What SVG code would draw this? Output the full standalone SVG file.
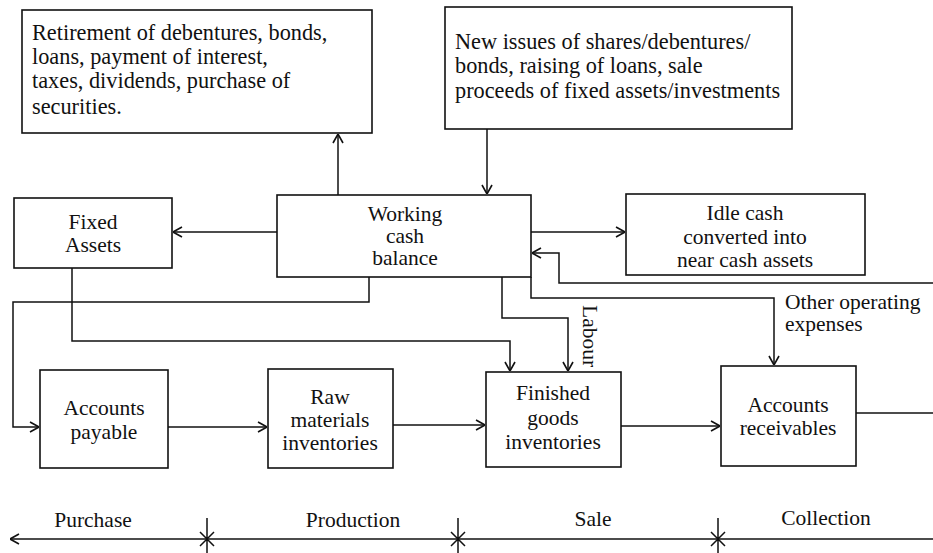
<svg xmlns="http://www.w3.org/2000/svg" width="933" height="553" viewBox="0 0 933 553">
<style>
  .box { fill: #fff; stroke: #111; stroke-width: 1.6; }
  .t { font-family: "Liberation Serif", "Times New Roman", serif; font-size: 21.5px; fill: #111; }
  .big { font-size: 22.3px; }
  .c { text-anchor: middle; }
  .ln { fill: none; stroke: #111; stroke-width: 1.5; }
  .arr { marker-end: url(#ah); }
</style>
<defs>
  <marker id="ah" viewBox="0 0 10 12" refX="10" refY="6" markerWidth="10" markerHeight="12" markerUnits="userSpaceOnUse" orient="auto">
    <path d="M1,1 L10,6 L1,11" fill="none" stroke="#111" stroke-width="1.6"/>
  </marker>
</defs>
<rect width="933" height="553" fill="#fff"/>

<g id="connectors">
  <path class="ln arr" d="M338,195 V134"/>
  <path class="ln arr" d="M487,129 V194"/>
  <path class="ln arr" d="M277,232 H173"/>
  <path class="ln arr" d="M531,232 H625"/>
  <path class="ln arr" d="M933,283 H559 V253 H532"/>
  <path class="ln arr" d="M531,277 V298 H774 V365"/>
  <path class="ln arr" d="M502,277 V318 H568 V371"/>
  <path class="ln arr" d="M72,268 V341 H510 V371"/>
  <path class="ln arr" d="M369,277 V302 H13 V427 H39"/>
  <path class="ln arr" d="M168,427 H267"/>
  <path class="ln arr" d="M393,425 H485"/>
  <path class="ln arr" d="M621,426 H720"/>
  <path class="ln" d="M856,413 H933"/>
</g>

<g id="timeline">
  <path class="ln arr" d="M933,539 H10"/>
  <path class="ln" d="M207,518 V553 M200,532 L214,546 M214,532 L200,546"/>
  <path class="ln" d="M458,518 V553 M451,532 L465,546 M465,532 L451,546"/>
  <path class="ln" d="M718,518 V553 M711,532 L725,546 M725,532 L711,546"/>
  <text class="t c" x="93" y="527">Purchase</text>
  <text class="t c" x="353" y="527">Production</text>
  <text class="t c" x="593" y="526">Sale</text>
  <text class="t c" x="826" y="525">Collection</text>
</g>

<g id="retirement">
  <rect class="box" x="22" y="10" width="350" height="123"/>
  <text class="t big" x="32" y="40">Retirement of debentures, bonds,</text>
  <text class="t big" x="32" y="64">loans, payment of interest,</text>
  <text class="t big" x="32" y="88">taxes, dividends, purchase of</text>
  <text class="t big" x="32" y="114">securities.</text>
</g>

<g id="new-issues">
  <rect class="box" x="445" y="7" width="347" height="122"/>
  <text class="t big" x="455" y="49">New issues of shares/debentures/</text>
  <text class="t big" x="455" y="73">bonds, raising of loans, sale</text>
  <text class="t big" x="455" y="98">proceeds of fixed assets/investments</text>
</g>

<g id="fixed-assets">
  <rect class="box" x="14" y="198" width="158" height="70"/>
  <text class="t c" x="93" y="229">Fixed</text>
  <text class="t c" x="93" y="252">Assets</text>
</g>

<g id="working-cash">
  <rect class="box" x="277" y="195" width="254" height="82"/>
  <text class="t c" x="405" y="221">Working</text>
  <text class="t c" x="405" y="243">cash</text>
  <text class="t c" x="405" y="265">balance</text>
</g>

<g id="idle-cash">
  <rect class="box" x="626" y="194" width="239" height="81"/>
  <text class="t c" x="745" y="220">Idle cash</text>
  <text class="t c" x="745" y="244">converted into</text>
  <text class="t c" x="745" y="267">near cash assets</text>
</g>

<g id="labels">
  <text class="t" transform="translate(583,305) rotate(90)">Labour</text>
  <text class="t" x="785" y="309">Other operating</text>
  <text class="t" x="785" y="331">expenses</text>
</g>

<g id="accounts-payable">
  <rect class="box" x="40" y="370" width="128" height="98"/>
  <text class="t c" x="104" y="415">Accounts</text>
  <text class="t c" x="104" y="439">payable</text>
</g>

<g id="raw-materials">
  <rect class="box" x="268" y="369" width="125" height="99"/>
  <text class="t c" x="330" y="404">Raw</text>
  <text class="t c" x="330" y="427">materials</text>
  <text class="t c" x="330" y="450">inventories</text>
</g>

<g id="finished-goods">
  <rect class="box" x="486" y="372" width="135" height="95"/>
  <text class="t c" x="553" y="400">Finished</text>
  <text class="t c" x="553" y="425">goods</text>
  <text class="t c" x="553" y="449">inventories</text>
</g>

<g id="accounts-receivables">
  <rect class="box" x="721" y="366" width="135" height="100"/>
  <text class="t c" x="788" y="412">Accounts</text>
  <text class="t c" x="788" y="435">receivables</text>
</g>
</svg>
